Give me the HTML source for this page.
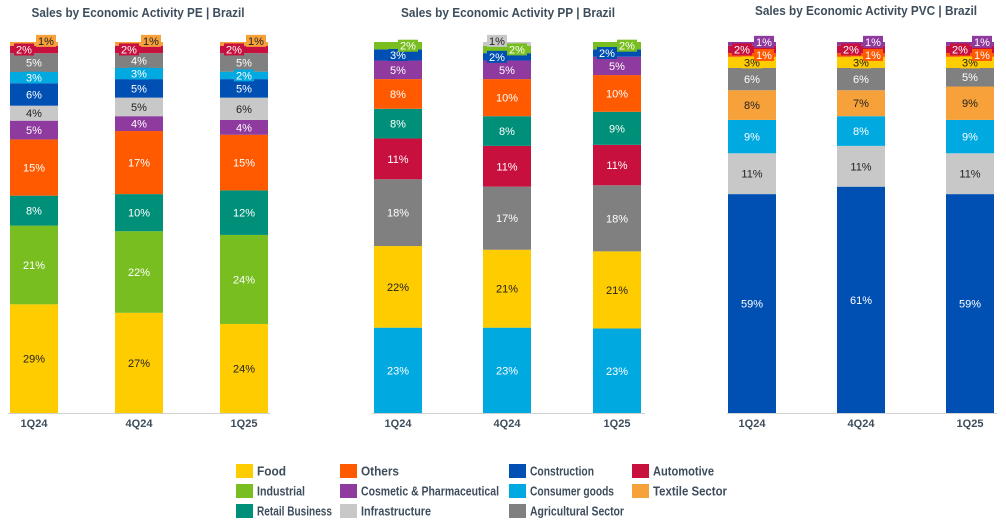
<!DOCTYPE html>
<html><head><meta charset="utf-8">
<style>
body{margin:0;background:#fff;font-family:"Liberation Sans",sans-serif;}
svg{display:block}
text{font-family:"Liberation Sans",sans-serif;}
</style></head>
<body>
<svg id="chart" width="1006" height="528" viewBox="0 0 1006 528"></svg>
<script>
const seriesNames = ["Food","Others","Construction","Automotive","Industrial","Cosmetic & Pharmaceutical","Consumer goods","Textile Sector","Retail Business","Infrastructure","Agricultural Sector"];
const seriesColors = ["#FFCC00","#FF5A00","#0050B4","#C8103E","#78BE20","#8E3A9E","#00A9E0","#F7A13A","#00907A","#C8C8C8","#808080"];
const darkText = ["Food","Infrastructure","Textile Sector"];
const categories = ["1Q24","4Q24","1Q25"];

const peOrder = ["Food","Industrial","Retail Business","Others","Cosmetic & Pharmaceutical","Infrastructure","Construction","Consumer goods","Agricultural Sector","Automotive","Textile Sector"];
const peValues = [
  [29,21,8,15,5,4,6,3,5,2,1],
  [27,22,10,17,4,5,5,3,4,2,1],
  [24,24,12,15,4,6,5,2,5,2,1]
];
const ppOrder = ["Consumer goods","Food","Agricultural Sector","Automotive","Retail Business","Others","Cosmetic & Pharmaceutical","Construction","Industrial","Infrastructure"];
const ppValues = [
  [23,22,18,11,8,8,5,3,2,0],
  [23,21,17,11,8,10,5,2,2,1],
  [23,21,18,11,9,10,5,2,2,0]
];
const pvcOrder = ["Construction","Infrastructure","Consumer goods","Textile Sector","Agricultural Sector","Food","Others","Automotive","Cosmetic & Pharmaceutical"];
const pvcValues = [
  [59,11,9,8,6,3,1,2,1],
  [61,11,8,7,6,3,1,2,1],
  [59,11,9,9,5,3,1,2,1]
];

const charts = [
  {name:"pe", title:"Sales by Economic Activity PE  |  Brazil", titleX:138, titleY:17, titleW:213, barX:[10,115,220], order:peOrder, values:peValues, axis:[8,270],
   offsets:{"Automotive":[-10,0],"Textile Sector":[12,-3]}},
  {name:"pp", title:"Sales by Economic Activity PP  |  Brazil", titleX:508, titleY:17, titleW:214, barX:[374,483,593], order:ppOrder, values:ppValues, axis:[372,645],
   offsets:{"Industrial":[10,0],"Infrastructure":[-10,-3]}},
  {name:"pvc", title:"Sales by Economic Activity PVC  |  Brazil", titleX:866, titleY:15, titleW:222, barX:[728,837,946], order:pvcOrder, values:pvcValues, axis:[727,997],
   offsets:{"Others":[12,0],"Automotive":[-10,0],"Cosmetic & Pharmaceutical":[12,-2]}}
];
const barW = 48, baseY = 413, topY = 42;
const svg = document.getElementById('chart');
const NS = "http://www.w3.org/2000/svg";
function mk(tag, attrs){const e=document.createElementNS(NS,tag);for(const k in attrs)e.setAttribute(k,attrs[k]);return e;}
function colorOf(n){return seriesColors[seriesNames.indexOf(n)];}
function slug(s){return s.toLowerCase().replace(/[^a-z0-9]+/g,'-').replace(/-$/,'');}

charts.forEach(ch=>{
  const g = mk('g',{});
  
  
  svg.appendChild(g);
  const t = mk('text',{x:ch.titleX,y:ch.titleY,'text-anchor':'middle','font-size':'12.5','font-weight':'bold',fill:'#3E4D5C',textLength:ch.titleW,lengthAdjust:'spacingAndGlyphs'});
  t.textContent = ch.title;
  
  
  g.appendChild(t);
  const ax = mk('line',{x1:ch.axis[0],x2:ch.axis[1],y1:baseY+0.5,y2:baseY+0.5,stroke:'#D0D0D0','stroke-width':1});
  
  
  g.appendChild(ax);
  const labels = [];
  categories.forEach((cat,ci)=>{
    const vals = ch.values[ci];
    const total = vals.reduce((a,b)=>a+b,0);
    const scale = (baseY-topY)/total;
    let y = baseY;
    const x = ch.barX[ci];
    vals.forEach((v,si)=>{
      if(v<=0) return;
      const h = v*scale;
      y -= h;
      const sname = ch.order[si];
      const r = mk('rect',{x:x,y:y,width:barW,height:h,fill:colorOf(sname)});
      
      
      g.appendChild(r);
      const small = v<=2 || (h<12);
      let lx = x+barW/2, ly = y+h/2+4;
      const off = ch.offsets[sname];
      if(small && off){lx += off[0]; ly = y+h/2+4+off[1];}
      else if(small && ch.name==='pp' && sname==='Construction' && v<3){lx -= 10;}
      const fill = darkText.includes(sname) ? '#222' : '#fff';
      labels.push({lx,ly,v,sname,small,fill,cat});
    });
    const cl = mk('text',{x:x+barW/2,y:baseY+14,'text-anchor':'middle','font-size':'11','font-weight':'bold',fill:'#3E4D5C'});
    cl.textContent = cat;
    
    
    g.appendChild(cl);
  });
  labels.forEach(L=>{
    if(L.small){
      const bg = mk('rect',{x:L.lx-10,y:L.ly-10,width:20,height:12,fill:colorOf(L.sname)});
      
      
      g.appendChild(bg);
    }
    const tx = mk('text',{x:L.lx,y:L.ly,'text-anchor':'middle','font-size':'11',fill:L.fill});
    tx.textContent = L.v+'%';
    
    
    g.appendChild(tx);
  });
});

// legend
const legendCols = [236,340,509,632];
const legendRows = [471,491,511];
const legendLayout = [["Food",0,0,29],["Others",1,0,38],["Construction",2,0,64],["Automotive",3,0,61],
  ["Industrial",0,1,48],["Cosmetic & Pharmaceutical",1,1,138],["Consumer goods",2,1,84],["Textile Sector",3,1,74],
  ["Retail Business",0,2,75],["Infrastructure",1,2,70],["Agricultural Sector",2,2,94]];
const lg = mk('g',{});


svg.appendChild(lg);
legendLayout.forEach(([n,c,r,w])=>{
  const eg = mk('g',{});
  
  
  const sq = mk('rect',{x:legendCols[c],y:legendRows[r]-7,width:17,height:14,fill:colorOf(n)});
  
  
  eg.appendChild(sq);
  const tx = mk('text',{x:legendCols[c]+21,y:legendRows[r]+4.5,'font-size':'12.5','font-weight':'bold',fill:'#3E4D5C',textLength:w,lengthAdjust:'spacingAndGlyphs'});
  tx.textContent = n;
  
  
  eg.appendChild(tx);
  lg.appendChild(eg);
});
</script>
</body></html>
